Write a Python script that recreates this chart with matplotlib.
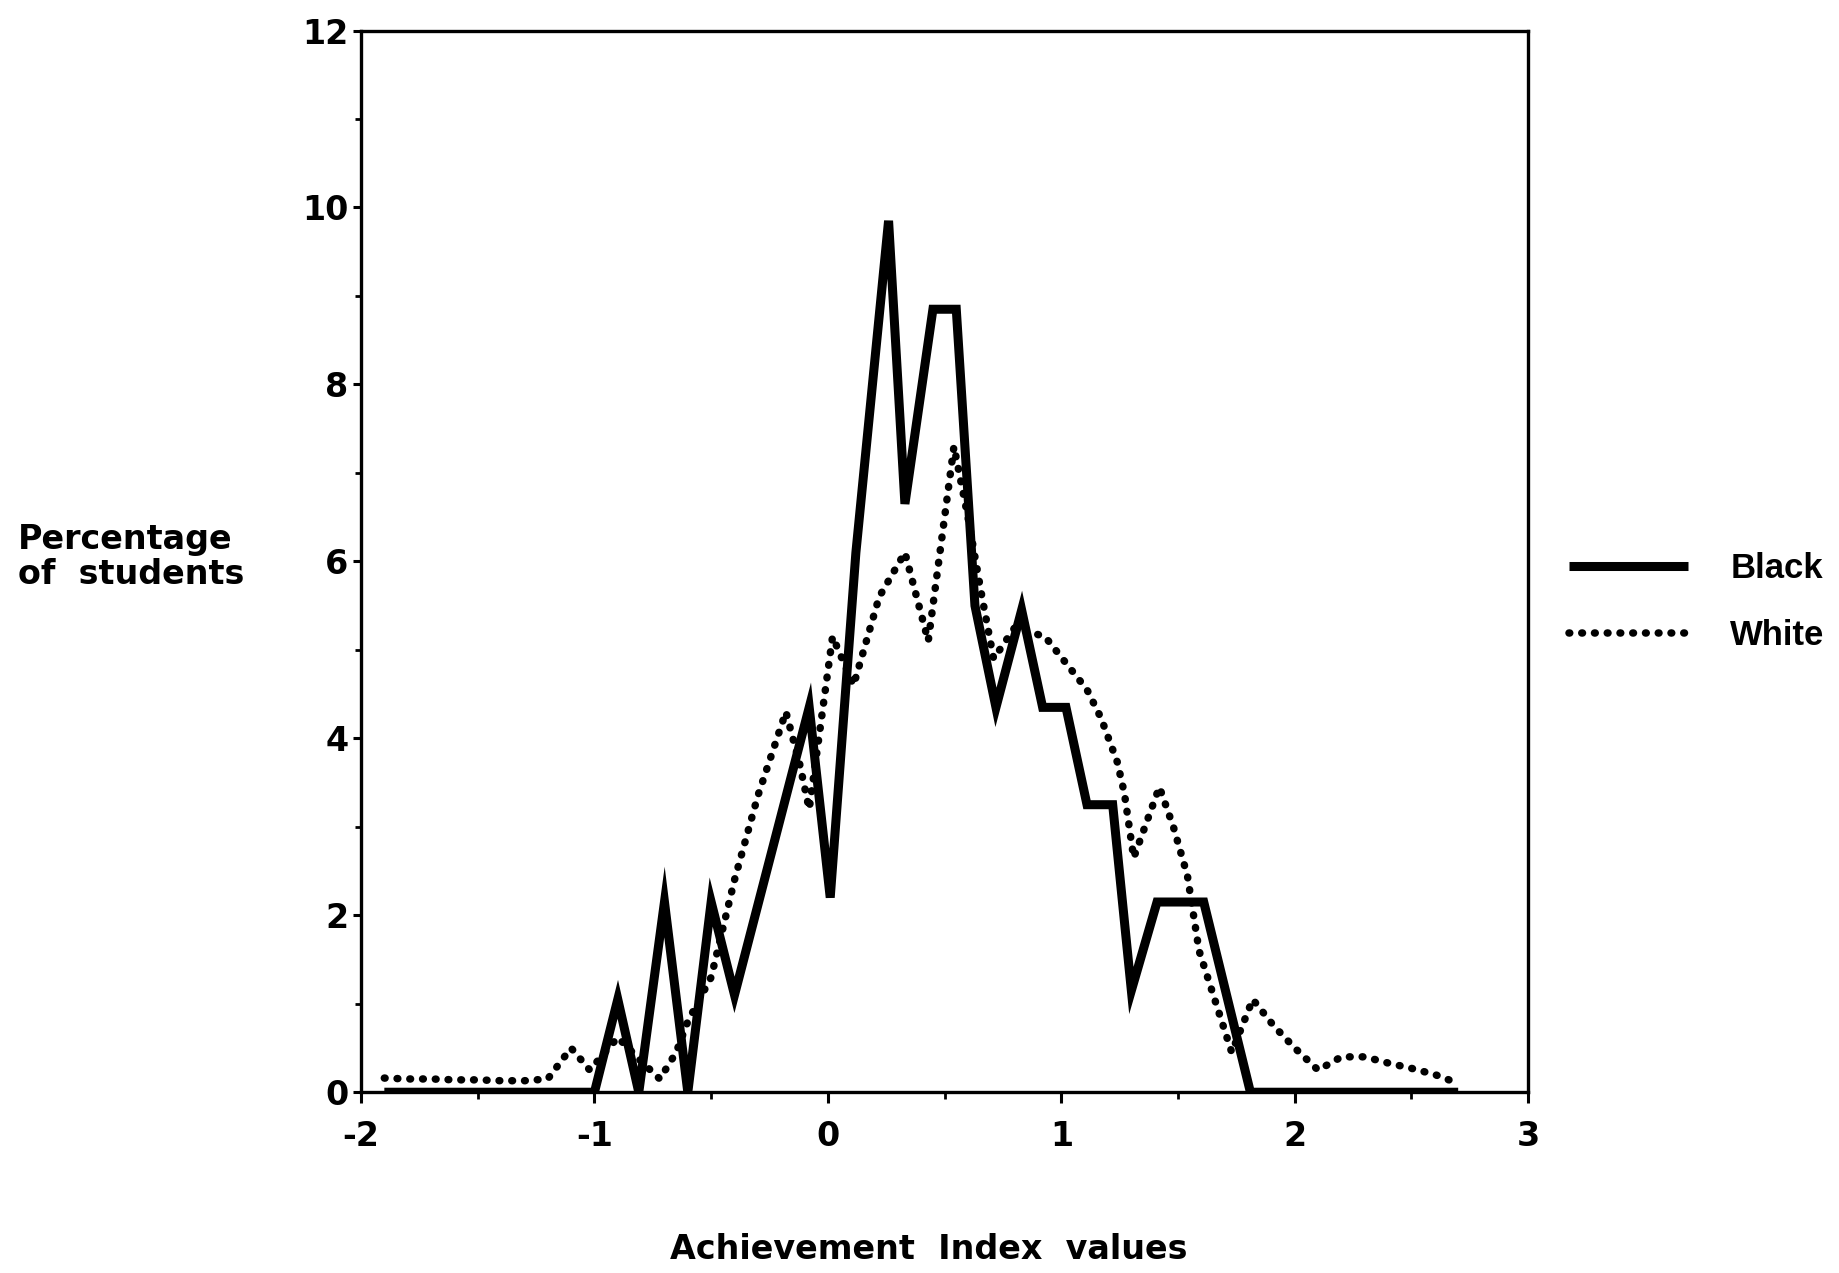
import matplotlib
matplotlib.use("Agg")
import matplotlib.pyplot as plt
from matplotlib.ticker import MultipleLocator

# ---- data ----
black_x = [-1.9, -1.0, -0.9, -0.81, -0.7, -0.6, -0.5, -0.4, -0.08, 0.01, 0.12, 0.26,
           0.33, 0.45, 0.55, 0.63, 0.72, 0.83, 0.92, 1.02, 1.11, 1.22, 1.30, 1.41,
           1.61, 1.81, 2.7]
black_y = [0.0, 0.0, 1.05, 0.0, 2.15, 0.0, 2.15, 1.1, 4.35, 2.2, 6.1, 9.85,
           6.65, 8.85, 8.85, 5.5, 4.35, 5.45, 4.35, 4.35, 3.25, 3.25, 1.15, 2.15,
           2.15, 0.0, 0.0]

white_x = [-1.9, -1.8, -1.7, -1.6, -1.5, -1.4, -1.3, -1.2, -1.1, -1.02, -0.9, -0.8,
           -0.72, -0.65, -0.6, -0.5, -0.4, -0.3, -0.18, -0.12, -0.08, 0.02, 0.11,
           0.22, 0.33, 0.43, 0.54, 0.6, 0.66, 0.71, 0.8, 0.93, 1.02, 1.11, 1.17,
           1.24, 1.27, 1.31, 1.42, 1.48, 1.54, 1.59, 1.73, 1.82, 1.91, 2.0, 2.1,
           2.2, 2.3, 2.4, 2.5, 2.6, 2.68]
white_y = [0.16, 0.15, 0.15, 0.14, 0.14, 0.13, 0.13, 0.15, 0.5, 0.25, 0.62, 0.35,
           0.15, 0.45, 0.8, 1.3, 2.4, 3.35, 4.3, 3.7, 3.2, 5.15, 4.6,
           5.6, 6.1, 5.1, 7.3, 6.5, 5.6, 4.9, 5.25, 5.15, 4.85, 4.55, 4.23,
           3.73, 3.38, 2.65, 3.45, 3.0, 2.45, 1.6, 0.45, 1.05, 0.75, 0.5, 0.25,
           0.4, 0.4, 0.33, 0.27, 0.2, 0.12]

x_ticks = [-2, -1, 0, 1, 2, 3]
y_ticks = [0, 2, 4, 6, 8, 10, 12]
series_labels = ["Black", "White"]

LEG_FONT = "Liberation Sans"
TXT_FONT = "DejaVu Sans"
plt.rcParams['font.family'] = [TXT_FONT]

fig = plt.figure(figsize=(18.39, 12.73), dpi=100)
ax = fig.add_axes([0.1963, 0.142, 0.6347, 0.834])

ax.plot(black_x, black_y, color="black", lw=6.5, solid_joinstyle="miter",
        solid_capstyle="butt", label=series_labels[0], clip_on=True, zorder=3)
ax.plot(white_x, white_y, color="black", lw=5.4, linestyle=(0, (0.1, 1.6)),
        dash_capstyle="round", label=series_labels[1], clip_on=False, zorder=2)

ax.set_xlim(-2, 3)
ax.set_ylim(0, 12)
ax.set_xticks(x_ticks)
ax.set_yticks(y_ticks)
ax.set_xticklabels([str(t) for t in x_ticks])
ax.set_yticklabels([str(t) for t in y_ticks])
ax.xaxis.set_minor_locator(MultipleLocator(0.5))
ax.yaxis.set_minor_locator(MultipleLocator(1))

for s in ax.spines.values():
    s.set_linewidth(2.4)

ax.tick_params(axis="x", which="major", direction="out", length=8, width=2.2,
               pad=12, labelsize=24)
ax.tick_params(axis="x", which="minor", direction="out", length=5, width=2)
ax.tick_params(axis="y", which="major", direction="out", length=6, width=2.2,
               pad=3, labelsize=24)
ax.tick_params(axis="y", which="minor", direction="out", length=4, width=2)
for lab in ax.get_xticklabels() + ax.get_yticklabels():
    lab.set_fontweight("bold")

fig.text(0.0098, 0.5625, "Percentage\nof  students", ha="left", va="center",
         fontsize=24, fontweight="bold", linespacing=1.1)
fig.text(0.505, 0.0185, "Achievement  Index  values", ha="center", va="center",
         fontsize=24, fontweight="bold")

leg = ax.legend(loc="center left", bbox_to_anchor=(0.853, 0.527),
                bbox_transform=fig.transFigure, frameon=False, borderpad=0,
                borderaxespad=0, handlelength=3.45, handletextpad=1.2,
                labelspacing=1.0, prop={"family": LEG_FONT, "weight": "bold", "size": 25})

fig.savefig("out.png", dpi=100)
